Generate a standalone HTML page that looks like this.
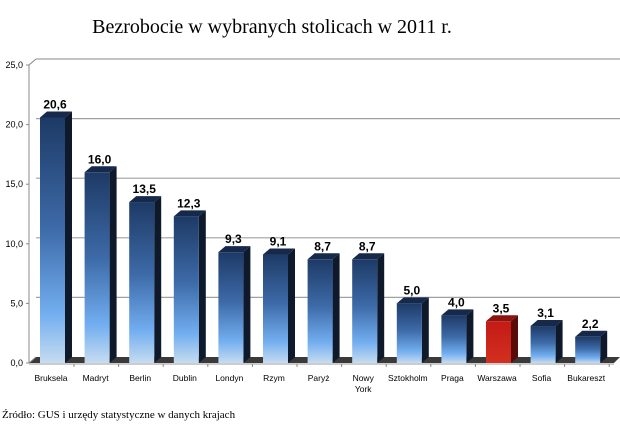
<!DOCTYPE html>
<html><head><meta charset="utf-8"><style>
html,body{margin:0;padding:0;background:#fff;}
svg{display:block;}
</style></head><body>
<svg id="chart" width="620" height="440" viewBox="0 0 620 440" xmlns="http://www.w3.org/2000/svg">
<defs>
<linearGradient id="gBlue" x1="0" y1="0" x2="0" y2="1">
<stop offset="0" stop-color="#1d3a66"/><stop offset="0.45" stop-color="#3d6aa8"/><stop offset="0.8" stop-color="#72aef0"/><stop offset="1" stop-color="#c6dcf0"/></linearGradient>
<linearGradient id="gRed" x1="0" y1="0" x2="0" y2="1">
<stop offset="0" stop-color="#c41a14"/><stop offset="1" stop-color="#d23020"/></linearGradient>
</defs>
<text x="272" y="33" text-anchor="middle" font-family="Liberation Serif, serif" font-size="20" fill="#000">Bezrobocie w wybranych stolicach w 2011 r.</text>
<g id="grid"></g><g id="floor"></g><g id="bars"></g><g id="axis"></g>
<text x="2" y="418" font-family="Liberation Serif, serif" font-size="11" fill="#000">Źródło: GUS i urzędy statystyczne w danych krajach</text>
</svg>
<script>
const categories=["Bruksela","Madryt","Berlin","Dublin","Londyn","Rzym","Paryż","Nowy York","Sztokholm","Praga","Warszawa","Sofia","Bukareszt"];
const values=[20.6,16.0,13.5,12.3,9.3,9.1,8.7,8.7,5.0,4.0,3.5,3.1,2.2];
const valueLabels=["20,6","16,0","13,5","12,3","9,3","9,1","8,7","8,7","5,0","4,0","3,5","3,1","2,2"];
const ticks=[0,5,10,15,20,25];
const tickLabels=["0,0","5,0","10,0","15,0","20,0","25,0"];
const highlight="Warszawa";
const NS="http://www.w3.org/2000/svg";
const y0=363,ppu=11.92,dx=7,dy=6;
const yS=v=>y0-v*ppu;
const xC=i=>52+i*44.6;
function mk(t,a,p){const e=document.createElementNS(NS,t);for(const k in a)e.setAttribute(k,a[k]);p.appendChild(e);return e;}
const grid=document.getElementById('grid'),axis=document.getElementById('axis'),bars=document.getElementById('bars'),floor=document.getElementById('floor');
ticks.forEach((t,i)=>{
 const y=yS(t);
 if(t>0){const l=mk('line',{x1:29+dx,y1:y-dy,x2:620,y2:y-dy,stroke:'#a0a0a0','stroke-width':1.2},grid);
 
 }
 const tl=mk('line',{x1:26,y1:y,x2:29,y2:y,stroke:'#888'},axis);
 
 
 const tx=mk('text',{x:23,y:y+3,'text-anchor':'end','font-family':'Liberation Sans, sans-serif','font-size':9,fill:'#000'},axis);
 tx.textContent=tickLabels[i];
 
 
});
const ax=mk('path',{d:`M29 ${y0} L29 ${yS(25)} L${29+dx} ${yS(25)-dy} M29 ${y0} L${29+dx} ${y0-dy}`,stroke:'#888',fill:'none'},axis);


const fl=mk('polygon',{points:`29,${y0} ${29+dx},${y0-dy} 620,${y0-dy} 614,${y0}`,fill:'#3a3a3a'},floor);


const bl=mk('line',{x1:29,y1:y0+1,x2:614,y2:y0+1,stroke:'#999'},axis);


categories.forEach((c,i)=>{
 const cx=xC(i),x=cx-12,w=25,yt=yS(values[i]),red=c===highlight;
 const g=mk('g',{},bars);
 
 
 mk('polygon',{points:`${x+w},${yt} ${x+w+dx},${yt-dy} ${x+w+dx},${y0-dy} ${x+w},${y0}`,fill:red?'#5a0a08':'#0e1a2c'},g);
 mk('polygon',{points:`${x},${yt} ${x+dx},${yt-dy} ${x+w+dx},${yt-dy} ${x+w},${yt}`,fill:red?'#8a1410':'#16294a'},g);
 mk('rect',{x:x,y:yt,width:w,height:y0-yt,fill:red?'url(#gRed)':'url(#gBlue)'},g);
 const vt=mk('text',{x:cx+3,y:yt-9,'text-anchor':'middle','font-family':'Liberation Sans, sans-serif','font-size':12,'font-weight':'bold',fill:'#000'},bars);
 vt.textContent=valueLabels[i];
 
 
 const parts=c==="Nowy York"?["Nowy","York"]:[c];
 parts.forEach((p,j)=>{
  const t=mk('text',{x:cx-1,y:381+j*11,'text-anchor':'middle','font-family':'Liberation Sans, sans-serif','font-size':8.5,fill:'#000'},axis);
  t.textContent=p;
  
  
 });
 const tk=mk('line',{x1:cx+22,y1:y0+1,x2:cx+22,y2:y0+4,stroke:'#888'},axis);
 
 
});
</script>
</body></html>
